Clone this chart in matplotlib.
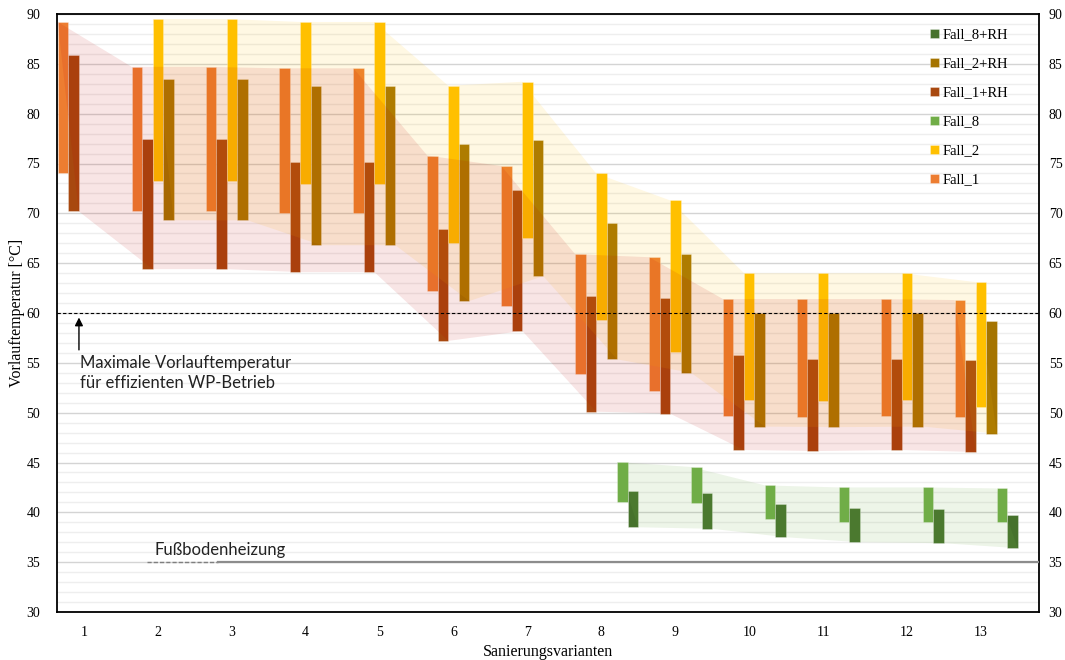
import numpy as np
import matplotlib
matplotlib.use("Agg")
import matplotlib.pyplot as plt
from matplotlib.patches import Polygon
import matplotlib.transforms as mtransforms

nan = np.nan
categories = [str(i) for i in range(1, 14)]

fall1_top = [89.2, 84.7, 84.7, 84.55, 84.55, 75.8, 74.75, 65.9, 65.6, 61.4, 61.4, 61.4, 61.3]
fall1_bot = [74.05, 70.2, 70.2, 70.0, 70.0, 62.2, 60.7, 53.85, 52.2, 49.7, 49.6, 49.7, 49.55]
fall1rh_top = [85.9, 77.5, 77.5, 75.2, 75.2, 68.4, 72.3, 61.7, 61.5, 55.8, 55.4, 55.4, 55.3]
fall1rh_bot = [70.2, 64.4, 64.4, 64.1, 64.1, 57.2, 58.2, 50.1, 49.9, 46.25, 46.15, 46.25, 46.05]

fall2_top = [nan, 89.5, 89.5, 89.2, 89.2, 82.8, 83.2, 74.0, 71.3, 64.0, 64.0, 64.0, 63.1]
fall2_bot = [nan, 73.25, 73.25, 72.9, 72.9, 67.0, 67.5, 59.3, 56.1, 51.3, 51.2, 51.3, 50.6]
fall2rh_top = [nan, 83.45, 83.45, 82.8, 82.8, 76.95, 77.35, 69.0, 65.9, 60.0, 60.0, 60.0, 59.2]
fall2rh_bot = [nan, 69.3, 69.3, 66.8, 66.8, 61.2, 63.7, 55.35, 54.0, 48.6, 48.55, 48.6, 47.9]

fall8_top = [nan] * 7 + [45.05, 44.55, 42.7, 42.5, 42.5, 42.4]
fall8_bot = [nan] * 7 + [41.0, 40.9, 39.3, 39.0, 39.0, 39.0]
fall8rh_top = [nan] * 7 + [42.1, 41.95, 40.8, 40.4, 40.3, 39.7]
fall8rh_bot = [nan] * 7 + [38.5, 38.35, 37.5, 37.0, 36.9, 36.4]

limit_wp = 60
limit_fbh = 35

# ---- layout ----
W = 0.142
xpos = np.arange(1, 14, dtype=float)
xpos[11:] += 0.135  # wider spacing before variant 12 in the original

series = [
    ("Fall_1", fall1_top, fall1_bot, "#ED7D31", -2),
    ("Fall_1+RH", fall1rh_top, fall1rh_bot, "#A8480F", -1),
    ("Fall_2", fall2_top, fall2_bot, "#FFC000", 0),
    ("Fall_2+RH", fall2rh_top, fall2rh_bot, "#A57400", 1),
    ("Fall_8", fall8_top, fall8_bot, "#70AD47", 2),
    ("Fall_8+RH", fall8rh_top, fall8rh_bot, "#46722C", 3),
]

fig = plt.figure(figsize=(10.65, 6.6), dpi=100)
ax = fig.add_axes([57 / 1065, 1 - 612 / 660, (1039 - 57) / 1065, (612 - 14) / 660])

handles = {}
for name, top, bot, col, k in series:
    top = np.array(top, float)
    bot = np.array(bot, float)
    m = ~np.isnan(top)
    b = ax.bar(xpos[m] + k * W, top[m] - bot[m], bottom=bot[m], width=W,
               color=col, edgecolor=(1, 1, 1, 0.35), linewidth=0.6, zorder=2,
               label=name)
    handles[name] = b


def band(a_top, b_bot, ka, kb, col, alpha):
    a_top = np.array(a_top, float)
    b_bot = np.array(b_bot, float)
    m = ~np.isnan(a_top)
    xu = xpos[m] + ka * W - W / 2
    xl = xpos[m] + kb * W + W / 2
    xs = np.concatenate([xu, xl[::-1]])
    ys = np.concatenate([a_top[m], b_bot[m][::-1]])
    poly = Polygon(np.column_stack([xs, ys]), closed=True, facecolor=col,
                   alpha=alpha, edgecolor="none", zorder=3)
    ax.add_patch(poly)


band(fall2_top, fall2rh_bot, 0, 1, "#FFC000", 0.11)
band(fall1_top, fall1rh_bot, -2, -1, "#C00000", 0.10)
band(fall8_top, fall8rh_bot, 2, 3, "#70AD47", 0.12)

# limits and grid
ax.set_xlim(0.635, 13.92)
ax.set_ylim(30, 90)
yt = np.arange(30, 91, 5)
ax.set_yticks(yt)
ax.set_yticks(np.arange(30, 91, 1), minor=True)
ax.grid(axis="y", which="major", color="#D4D4D4", linewidth=1.0, zorder=0)
ax.grid(axis="y", which="minor", color="#EEEEEE", linewidth=1.0, zorder=0)
ax.set_axisbelow(True)
ax.set_xticks(xpos)
ax.set_xticklabels(categories)

serif = ["Liberation Serif", "DejaVu Serif"]
for lab in ax.get_xticklabels() + ax.get_yticklabels():
    lab.set_family(serif)
    lab.set_fontsize(10)
ax.tick_params(axis="both", which="both", length=0)
ax.tick_params(axis="y", which="major", pad=12)
ax.tick_params(axis="x", pad=10)

sec = ax.secondary_yaxis("right")
sec.set_yticks(yt)
sec.tick_params(axis="y", which="both", length=0, pad=7)
for lab in sec.get_yticklabels():
    lab.set_family(serif)
    lab.set_fontsize(10)
sec.spines["right"].set_visible(False)

for s in ax.spines.values():
    s.set_color("black")
    s.set_linewidth(1.3)

ax.set_ylabel("Vorlauftemperatur [°C]", family=serif, fontsize=11.5, labelpad=1)
ax.set_xlabel("Sanierungsvarianten", family=serif, fontsize=11.5, labelpad=4)

# reference lines
ax.axhline(limit_wp, color="black", linestyle=(0, (3, 2)), linewidth=0.8, zorder=4)
trans = mtransforms.blended_transform_factory(ax.transAxes, ax.transData)
ax.plot([0.0913, 0.164], [limit_fbh, limit_fbh], transform=trans, color="#7F7F7F",
        linestyle=(0, (3, 1.5)), linewidth=1.0, zorder=4)
ax.plot([0.164, 1.0], [limit_fbh, limit_fbh], transform=trans, color="#8C8C8C",
        linewidth=1.6, zorder=4)

sans = ["Lato", "DejaVu Sans"]
ax.text(1.95, 35.45, "Fußbodenheizung", family=sans, fontsize=12, ha="left",
        va="bottom", color="#222222", zorder=5)
ax.annotate("", xy=(0.932, 59.55), xytext=(0.932, 56.3),
            arrowprops=dict(arrowstyle="-|>", color="black", lw=1.0,
                            mutation_scale=12, shrinkA=0, shrinkB=0), zorder=5)
ax.text(0.945, 54.0, "Maximale Vorlauftemperatur\nfür effizienten WP-Betrieb",
        family=sans, fontsize=12, ha="left", va="center", linespacing=1.35,
        color="#222222", zorder=5)

order = ["Fall_8+RH", "Fall_2+RH", "Fall_1+RH", "Fall_8", "Fall_2", "Fall_1"]
leg = ax.legend([handles[n] for n in order], order, loc="upper right",
                bbox_to_anchor=(0.982, 0.998), frameon=False,
                prop={"family": serif, "size": 10.5}, handlelength=0.6,
                handleheight=0.6, handletextpad=0.25, labelspacing=1.1)
leg.set_zorder(6)

fig.savefig("out.png", dpi=100)
